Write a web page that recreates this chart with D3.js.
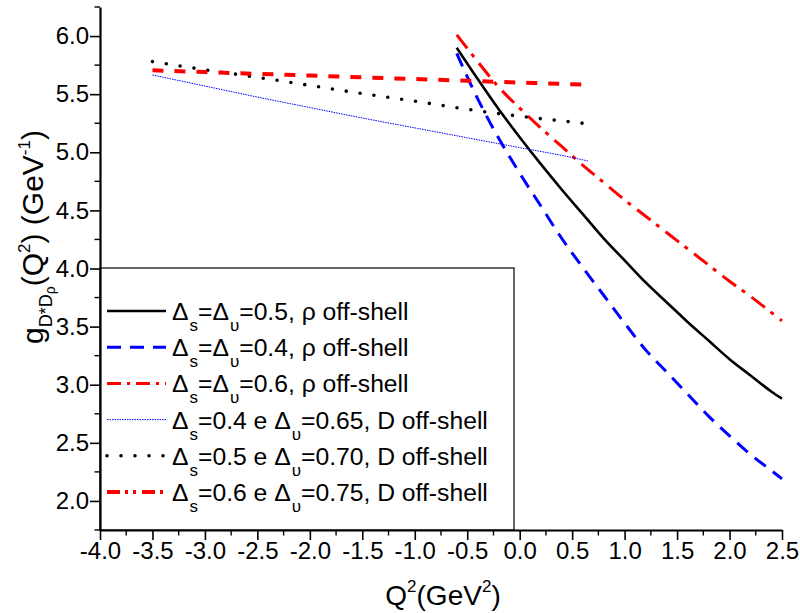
<!DOCTYPE html>
<html>
<head>
<meta charset="utf-8">
<script src="https://cdn.jsdelivr.net/npm/d3@7"></script>
<style>
  html, body { margin: 0; padding: 0; background: #fff; }
  svg { display: block; font-family: "Liberation Sans", Arial, sans-serif; }
</style>
</head>
<body>
<svg id="chart" width="800" height="613"></svg>
<script>
// ---------- data ----------
const xTicks = [-4.0, -3.5, -3.0, -2.5, -2.0, -1.5, -1.0, -0.5, 0.0, 0.5, 1.0, 1.5, 2.0, 2.5];
const yTicks = [2.0, 2.5, 3.0, 3.5, 4.0, 4.5, 5.0, 5.5, 6.0];

// rho off-shell curves
const qRho = [-0.6, -0.4, -0.2, 0.0, 0.2, 0.4, 0.6, 0.8, 1.0, 1.2, 1.4, 1.6, 1.8, 2.0, 2.2, 2.4, 2.5];
const gRho05 = [5.90, 5.63, 5.37, 5.13, 4.90, 4.68, 4.47, 4.26, 4.07, 3.88, 3.71, 3.54, 3.38, 3.22, 3.08, 2.94, 2.88];
const gRho04 = [5.85, 5.46, 5.12, 4.82, 4.54, 4.26, 4.01, 3.77, 3.53, 3.30, 3.11, 2.92, 2.73, 2.56, 2.40, 2.26, 2.19];
const gRho06 = [6.01, 5.78, 5.56, 5.38, 5.21, 5.05, 4.89, 4.74, 4.59, 4.45, 4.31, 4.17, 4.03, 3.89, 3.76, 3.62, 3.55];

// D off-shell curves
const qD = [-3.5, -3.0, -2.5, -2.0, -1.5, -1.0, -0.5, 0.0, 0.5, 0.65];
const gD04 = [5.665, 5.57, 5.475, 5.385, 5.295, 5.21, 5.125, 5.04, 4.955, 4.925];
const gD05 = [5.78, 5.71, 5.645, 5.575, 5.505, 5.44, 5.37, 5.31, 5.26, 5.245];
const gD06 = [5.705, 5.69, 5.675, 5.66, 5.645, 5.63, 5.615, 5.60, 5.585, 5.58];

// legend labels: [text, isSubscript]
const legendLabels = [
  [["Δ", 0], ["s", 1], ["=Δ", 0], ["υ", 1], ["=0.5, ρ off-shell", 0]],
  [["Δ", 0], ["s", 1], ["=Δ", 0], ["υ", 1], ["=0.4, ρ off-shell", 0]],
  [["Δ", 0], ["s", 1], ["=Δ", 0], ["υ", 1], ["=0.6, ρ off-shell", 0]],
  [["Δ", 0], ["s", 1], ["=0.4 e Δ", 0], ["υ", 1], ["=0.65, D off-shell", 0]],
  [["Δ", 0], ["s", 1], ["=0.5 e Δ", 0], ["υ", 1], ["=0.70, D off-shell", 0]],
  [["Δ", 0], ["s", 1], ["=0.6 e Δ", 0], ["υ", 1], ["=0.75, D off-shell", 0]]
];

// ---------- styles ----------
const series = [
  { q: qRho, g: gRho05, color: "#000000", width: 2.6, dash: null, legendDash: null, cap: "butt" },
  { q: qRho, g: gRho04, color: "#0000ff", width: 3, dash: "14,9", legendDash: "14,9", cap: "butt" },
  { q: qRho, g: gRho06, color: "#ff0000", width: 3, dash: "17,7,4,8", legendDash: "14,6,3,6", cap: "butt" },
  { q: qD, g: gD04, color: "#0000ff", width: 1, dash: "1.5,1", legendDash: "1.5,1", cap: "butt" },
  { q: qD, g: gD05, color: "#000000", width: 3.6, dash: "0,14", legendDash: "0,14", cap: "round" },
  { q: qD, g: gD06, color: "#ff0000", width: 4, dash: "11,11", legendDash: "13,5,3,5,3,6", cap: "butt" }
];

const svg = d3.select("#chart");
const x = d3.scaleLinear().domain([-4, 2.5]).range([100, 782]);
const y = d3.scaleLinear().domain([1.75, 6.25]).range([530, 7]);

const loc = d3.formatLocale({ decimal: ".", thousands: ",", grouping: [3], currency: ["", ""], minus: "-" });
const fmt = loc.format(".1f");

// minor ticks
const xMinor = d3.range(-4, 2.51, 0.25).filter(v => !xTicks.some(t => Math.abs(t - v) < 1e-6));
const yMinor = d3.range(1.75, 6.26, 0.25).filter(v => !yTicks.some(t => Math.abs(t - v) < 1e-6));

// ---------- lines ----------
const plot = svg.append("g");
series.forEach(s => {
  const pts = s.q.map((q, i) => [q, s.g[i]]);
  const line = d3.line().x(d => x(d[0])).y(d => y(d[1])).curve(d3.curveMonotoneX);
  plot.append("path")
    .attr("d", line(pts))
    .attr("fill", "none")
    .attr("stroke", s.color)
    .attr("stroke-width", s.width)
    .attr("stroke-linecap", s.cap)
    .attr("stroke-dasharray", s.dash);
});

// ---------- legend ----------
const legX0 = 100, legY0 = 268, legX1 = 514, legY1 = 530;
const leg = svg.append("g");
leg.append("rect")
  .attr("x", legX0).attr("y", legY0)
  .attr("width", legX1 - legX0).attr("height", legY1 - legY0)
  .attr("fill", "#fff").attr("stroke", "#000").attr("stroke-width", 1.2);

const rowY = d3.scaleLinear().domain([0, 5]).range([311, 492]);
series.forEach((s, i) => {
  const yy = rowY(i);
  leg.append("line")
    .attr("x1", 107).attr("x2", 166)
    .attr("y1", yy).attr("y2", yy)
    .attr("stroke", s.color)
    .attr("stroke-width", s.width)
    .attr("stroke-linecap", s.cap)
    .attr("stroke-dasharray", s.legendDash);
  const t = leg.append("text")
    .attr("x", 172).attr("y", yy + 9)
    .attr("font-size", 24.7).attr("fill", "#000");
  let shifted = false;
  legendLabels[i].forEach(([txt, sub]) => {
    const ts = t.append("tspan").text(txt);
    if (sub && !shifted) { ts.attr("dy", 11).attr("font-size", 17).attr("dx", 1); shifted = true; }
    else if (sub) { ts.attr("font-size", 17); }
    else if (shifted) { ts.attr("dy", -11); shifted = false; }
  });
});

// ---------- axes ----------
// y axis
const yAx = svg.append("g").attr("transform", "translate(100,0)")
  .call(d3.axisLeft(y).tickValues(yTicks).tickFormat(fmt).tickSize(10).tickSizeOuter(0));
yAx.select(".domain").attr("stroke-width", 2.2);
yAx.selectAll(".tick line").attr("stroke-width", 1.6);
yAx.selectAll(".tick text").attr("font-size", 24).attr("font-family", "Liberation Sans, Arial, sans-serif").attr("fill", "#000").attr("x", -11);
yAx.append("g").selectAll("line").data(yMinor).join("line")
  .attr("x1", 0).attr("x2", -5.5).attr("y1", d => y(d)).attr("y2", d => y(d))
  .attr("stroke", "#000").attr("stroke-width", 1.4);

// x axis
const xAx = svg.append("g").attr("transform", "translate(0,530)")
  .call(d3.axisBottom(x).tickValues(xTicks).tickFormat(fmt).tickSize(10).tickSizeOuter(0));
xAx.select(".domain").attr("stroke-width", 2.2);
xAx.selectAll(".tick line").attr("stroke-width", 1.6);
xAx.selectAll(".tick text").attr("font-size", 24).attr("font-family", "Liberation Sans, Arial, sans-serif").attr("fill", "#000").attr("y", 12);
xAx.append("g").selectAll("line").data(xMinor).join("line")
  .attr("y1", 0).attr("y2", 5.5).attr("x1", d => x(d)).attr("x2", d => x(d))
  .attr("stroke", "#000").attr("stroke-width", 1.4);

// x axis title
const xt = svg.append("text").attr("x", 443).attr("y", 605)
  .attr("text-anchor", "middle").attr("font-size", 28).attr("fill", "#000");
xt.append("tspan").text("Q");
xt.append("tspan").text("2").attr("font-size", 17).attr("dy", -13);
xt.append("tspan").text("(GeV").attr("dy", 13);
xt.append("tspan").text("2").attr("font-size", 17).attr("dy", -13);
xt.append("tspan").text(")").attr("dy", 13);

// y axis title
const yt = svg.append("text")
  .attr("transform", "translate(43,237) rotate(-90)")
  .attr("text-anchor", "middle").attr("font-size", 30).attr("fill", "#000");
yt.append("tspan").text("g");
yt.append("tspan").text("D*D").attr("font-size", 18).attr("dy", 9);
yt.append("tspan").text("ρ").attr("font-size", 14).attr("dy", 3);
yt.append("tspan").text("(Q").attr("dy", -12);
yt.append("tspan").text("2").attr("font-size", 17).attr("dy", -13);
yt.append("tspan").text(") (GeV").attr("dy", 13);
yt.append("tspan").text("-1").attr("font-size", 17).attr("dy", -13);
yt.append("tspan").text(")").attr("dy", 13);
</script>
</body>
</html>
